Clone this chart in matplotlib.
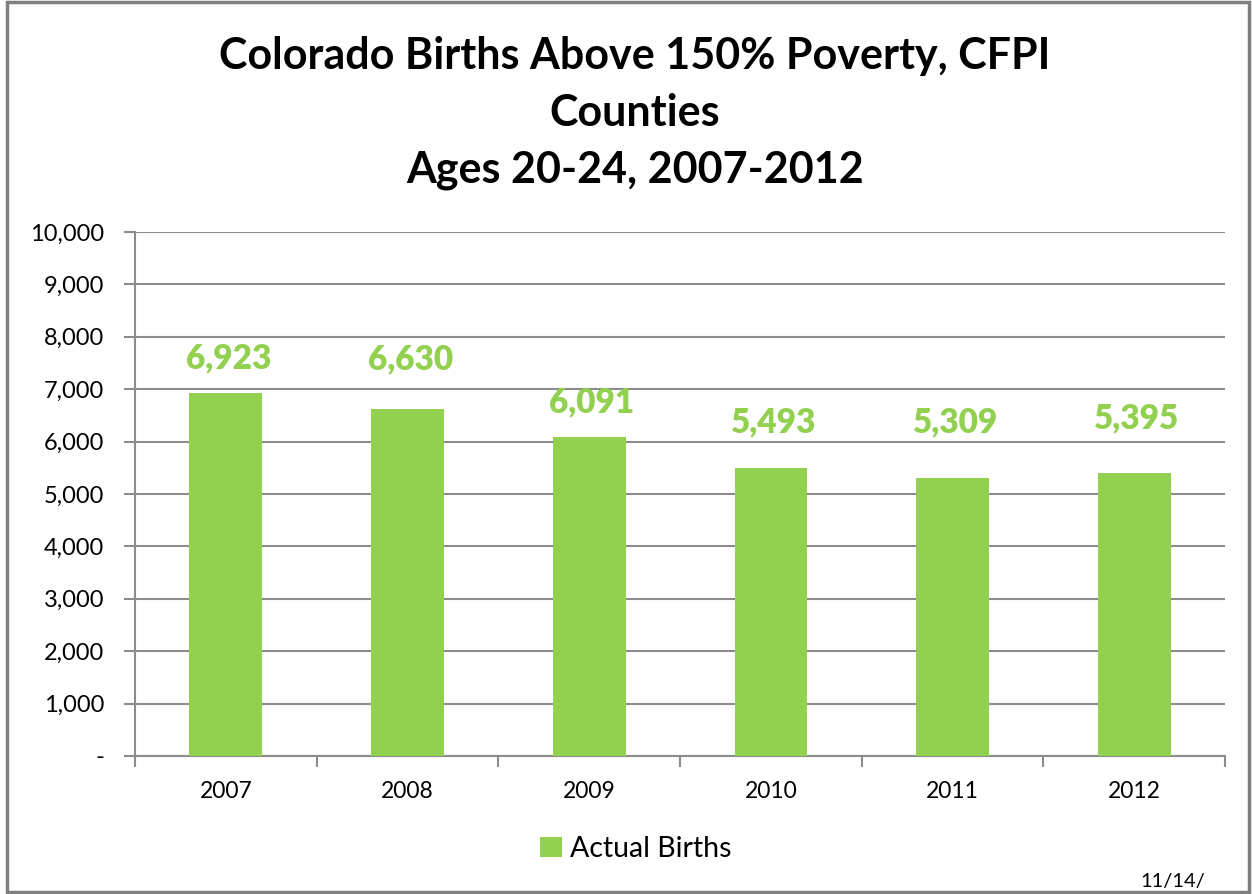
import matplotlib.pyplot as plt
from matplotlib.patches import Rectangle
from matplotlib.ticker import FuncFormatter, FixedLocator
import numpy as np

plt.rcParams['font.family'] = ['Lato', 'DejaVu Sans']

years = ['2007', '2008', '2009', '2010', '2011', '2012']
births = [6923, 6630, 6091, 5493, 5309, 5395]

# label lift above each bar top, in pixels (labels were placed by hand)
label_lift = [35, 49, 34, 46, 55, 55]

green = '#92D050'
grid_gray = '#8c8c8c'

fig = plt.figure(figsize=(12.52, 8.94), dpi=100)
ax = fig.add_axes([135 / 1252, 1 - 756 / 894, 1090 / 1252, 524 / 894])

x = np.arange(len(years))
ax.bar(x, births, width=0.4, color=green, zorder=3, label='Actual Births')
for xi, v, lift in zip(x, births, label_lift):
    ax.annotate(f'{v:,}', (xi, v), xytext=(2, lift * 0.72), textcoords='offset points',
                ha='center', va='center', color=green, fontsize=24, fontweight='heavy')

ax.set_xlim(-0.5, len(years) - 0.5)
ax.set_ylim(0, 10000)
ax.set_yticks(np.arange(0, 10001, 1000))
ax.yaxis.set_major_formatter(FuncFormatter(lambda v, p: '-' if v == 0 else f'{int(v):,}'))
ax.set_xticks(x)
ax.set_xticklabels(years)
ax.xaxis.set_minor_locator(FixedLocator(np.arange(-0.5, len(years), 1)))
ax.tick_params(axis='x', which='major', length=0, pad=18, labelsize=16.5)
ax.tick_params(axis='x', which='minor', length=8, width=1.5, color=grid_gray, direction='out')
ax.tick_params(axis='y', length=8, width=1.5, color=grid_gray, pad=14, labelsize=17)
ax.grid(axis='y', color=grid_gray, linewidth=1.5, zorder=0)
for s in ['top', 'right']:
    ax.spines[s].set_visible(False)
for s in ['left', 'bottom']:
    ax.spines[s].set_color(grid_gray)
    ax.spines[s].set_linewidth(1.5)

fig.text(0.507, 1 - 113 / 894,
         'Colorado Births Above 150% Poverty, CFPI\nCounties\nAges 20-24, 2007-2012',
         ha='center', va='center', fontsize=31, fontweight='bold', linespacing=1.5)

fig.legend(loc='center', bbox_to_anchor=(636 / 1252, 1 - 849 / 894), frameon=False,
           fontsize=20.5, handlelength=0.75, handleheight=0.75, handletextpad=0.3)

fig.text(1140 / 1252, 1 - 882 / 894, '11/14/', fontsize=14.5, va='center')

fig.patches.append(Rectangle((7 / 1252, 2 / 894), 1242 / 1252, 890 / 894,
                             transform=fig.transFigure, fill=False,
                             edgecolor='#7f7f7f', linewidth=2.5))

fig.savefig('out.png', dpi=100)
